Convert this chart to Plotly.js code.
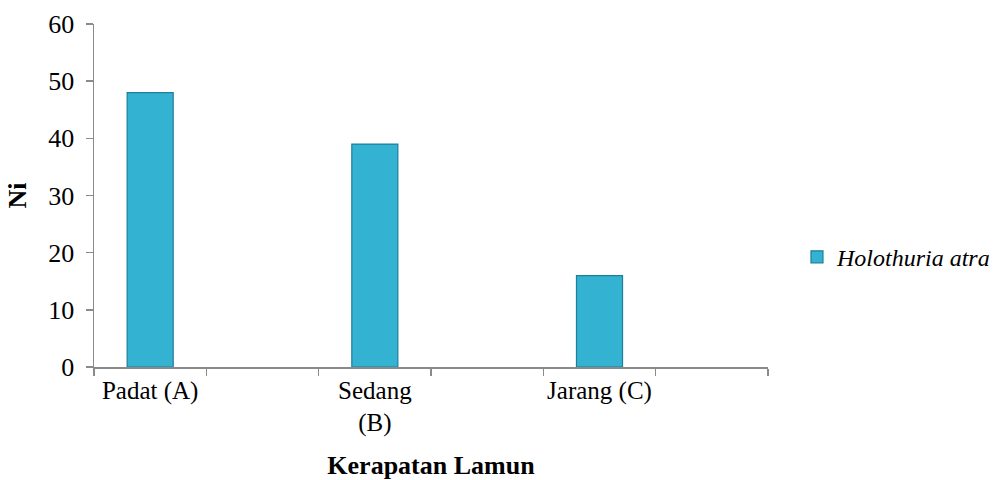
<!DOCTYPE html>
<html>
<head>
<meta charset="utf-8">
<script src="https://cdn.plot.ly/plotly-3.0.1.min.js"></script>
<style>
  html, body { margin: 0; padding: 0; background: #ffffff; }
  #chart { width: 1008px; height: 480px; }
</style>
</head>
<body>
<div id="chart"></div>
<script>
// Seagrass density classes and abundance of Holothuria atra
const categories = ['Padat (A)', 'Sedang<br>(B)', 'Jarang (C)'];
const seriesName = 'Holothuria atra';
const values = [48, 39, 16];

// Each class takes a slot with an empty slot after it
const slots = categories.map((_, i) => i * 2);
const boundaries = [];
for (let k = 0; k <= categories.length * 2; k++) boundaries.push(k - 0.5);

const serif = 'Liberation Serif, Times New Roman, serif';
const axisGrey = '#8a8a8a';

const trace = {
  type: 'bar',
  x: slots,
  y: values,
  name: '<i>' + seriesName + '</i>',
  width: 0.41,
  marker: {
    color: '#33b2d2',
    line: { color: '#1d7f99', width: 1.2 }
  },
  hoverinfo: 'skip'
};

const layout = {
  width: 1008,
  height: 480,
  margin: { l: 94, r: 240, t: 24, b: 113, autoexpand: false },
  paper_bgcolor: '#ffffff',
  plot_bgcolor: '#ffffff',
  font: { family: serif, size: 25, color: '#000000' },
  showlegend: true,
  legend: {
    x: 1.043, xanchor: 'left',
    y: 0.32, yanchor: 'middle',
    font: { family: serif, size: 24, color: '#000000' },
    itemwidth: 30
  },
  xaxis: {
    range: [-0.5, categories.length * 2 - 0.5],
    tickmode: 'array',
    tickvals: slots,
    ticktext: categories,
    ticks: '',
    showgrid: false,
    zeroline: false,
    showline: true,
    linecolor: axisGrey,
    linewidth: 1.5,
    tickfont: { family: serif, size: 25 },
    minor: {
      tickmode: 'array',
      tickvals: boundaries,
      ticks: 'outside',
      ticklen: 7,
      tickwidth: 1.5,
      tickcolor: axisGrey,
      showgrid: false
    },
    title: {
      text: '<b>Kerapatan Lamun</b>',
      font: { family: serif, size: 26 },
      standoff: 22
    }
  },
  yaxis: {
    range: [0, 60],
    dtick: 10,
    tick0: 0,
    ticks: 'outside',
    ticklen: 7,
    tickwidth: 1.5,
    tickcolor: axisGrey,
    ticklabelstandoff: 6,
    showgrid: false,
    zeroline: false,
    showline: true,
    linecolor: axisGrey,
    linewidth: 1.5,
    tickfont: { family: serif, size: 26 },
    title: {
      text: '<b>Ni</b>',
      font: { family: serif, size: 26 },
      standoff: 14
    }
  }
};

Plotly.newPlot('chart', [trace], layout, { displayModeBar: false, staticPlot: true });
</script>
</body>
</html>
